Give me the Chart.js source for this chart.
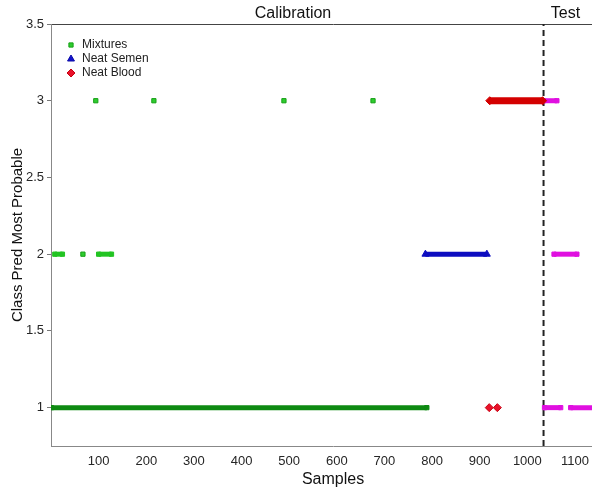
<!DOCTYPE html>
<html>
<head>
<meta charset="utf-8">
<script src="https://cdn.jsdelivr.net/npm/chart.js@4.4.1/dist/chart.umd.min.js"></script>
<style>
  html, body { margin: 0; padding: 0; background: #fff; overflow: hidden; }
  #wrap { width: 620px; height: 490px; }
</style>
</head>
<body>
<div id="wrap"><canvas id="chart"></canvas></div>
<script>
// Series names shown in the legend
const seriesNames = ['Mixtures', 'Neat Semen', 'Neat Blood'];

// Isolated samples: [sample, predicted class]
const mixtureSingles = [[94, 3], [216, 3], [489, 3], [676, 3], [67, 2]];
const bloodSingles = [[920, 1], [937, 1]];

// Dense runs of consecutive samples: [first sample, last sample, predicted class]
const mixtureRuns = [[1, 789, 1], [8, 24, 2], [100, 127, 2]];
const semenRuns = [[786, 915, 2]];
const bloodRuns = [[921, 1032, 3]];
const testRuns = [[1034, 1062, 3], [1056, 1104, 2], [1036, 1070, 1], [1091, 1195, 1]];

// Calibration / test split
const splitSample = 1034;
const sectionLabels = ['Calibration', 'Test'];
const sectionCenters = [508, 1080];

// Axis ticks
const xTicks = [100, 200, 300, 400, 500, 600, 700, 800, 900, 1000, 1100];
const yTicks = [1, 1.5, 2, 2.5, 3, 3.5];
const xRange = [0, 1184];
const yRange = [0.75, 3.5];

const styles = {
    mixtures: { fill: '#2ecc2e', border: '#16a016', run: '#22c422', longRun: '#0e8a12', shape: 'rect', r: 3 },
    semen: { fill: '#1212cc', border: '#0a0aa8', run: '#0d0dc0', shape: 'triangle', r: 4 },
    blood: { fill: '#e8122a', border: '#c80010', run: '#d40000', shape: 'rectRot', r: 4 },
    test: { fill: '#e418e4', border: '#c000c8', run: '#e010e0', shape: 'rect', r: 3 }
};

const datasets = [];

function addRuns(runs, st) {
    runs.forEach(function(run) {
        const long = run[1] - run[0] > 200;
        const colour = long && st.longRun ? st.longRun : st.run;
        datasets.push({
            type: 'line',
            data: [{ x: run[0], y: run[2] }, { x: run[1], y: run[2] }],
            borderColor: colour,
            borderWidth: st.shape === 'rectRot' ? 7 : 5,
            borderCapStyle: 'butt',
            pointStyle: st.shape,
            pointRadius: st.r,
            pointBackgroundColor: colour,
            pointBorderColor: colour,
            pointBorderWidth: 1,
            tension: 0
        });
    });
}

function addSingles(points, st) {
    datasets.push({
        type: 'scatter',
        data: points.map(function(p) { return { x: p[0], y: p[1] }; }),
        pointStyle: st.shape,
        pointRadius: st.r,
        backgroundColor: st.fill,
        borderColor: st.border,
        borderWidth: 1
    });
}

addRuns(mixtureRuns, styles.mixtures);
addSingles(mixtureSingles, styles.mixtures);
addRuns(semenRuns, styles.semen);
addRuns(bloodRuns, styles.blood);
addSingles(bloodSingles, styles.blood);
addRuns(testRuns, styles.test);

// Dashed split line
datasets.push({
    type: 'line',
    data: [{ x: splitSample, y: yRange[0] }, { x: splitSample, y: yRange[1] }],
    borderColor: '#222',
    borderWidth: 2,
    borderDash: [6, 4],
    pointRadius: 0
});

// Legend drawn inside the plot area, top left
const insideLegend = {
    id: 'insideLegend',
    afterDatasetsDraw: function(chart) {
        const ctx = chart.ctx;
        const area = chart.chartArea;
        const legendStyles = [styles.mixtures, styles.semen, styles.blood];
        ctx.save();
        ctx.font = '12px "Liberation Sans", Arial, sans-serif';
        ctx.textBaseline = 'middle';
        seriesNames.forEach(function(name, i) {
            const st = legendStyles[i];
            const y = area.top + 21 + i * 14;
            ctx.fillStyle = st.fill;
            ctx.strokeStyle = st.border;
            ctx.lineWidth = 1;
            Chart.helpers.drawPoint(ctx, { pointStyle: st.shape, radius: st.r, borderWidth: 1 }, area.left + 20, y);
            ctx.fillStyle = '#222';
            ctx.fillText(name, area.left + 31, y);
        });
        ctx.restore();
    }
};

const tickFont = { family: '"Liberation Sans", Arial, sans-serif', size: 13 };
const plainLabel = function(value) { return String(value); };

new Chart(document.getElementById('chart'), {
    type: 'scatter',
    data: { datasets: datasets },
    plugins: [insideLegend],
    options: {
        responsive: true,
        maintainAspectRatio: false,
        animation: false,
        layout: { padding: 0 },
        plugins: {
            legend: { display: false },
            tooltip: { enabled: false }
        },
        scales: {
            x: {
                type: 'linear',
                position: 'bottom',
                min: xRange[0],
                max: xRange[1],
                afterBuildTicks: function(scale) {
                    scale.ticks = xTicks.map(function(v) { return { value: v }; });
                },
                afterFit: function(scale) { scale.height = 44; },
                ticks: { font: tickFont, color: '#262626', padding: 8, maxRotation: 0, autoSkip: false, callback: plainLabel },
                grid: { drawOnChartArea: false, drawTicks: false },
                border: { color: '#888', width: 1 },
                title: {
                    display: true,
                    text: 'Samples',
                    font: { family: '"Liberation Sans", Arial, sans-serif', size: 16 },
                    color: '#111',
                    padding: { top: 0, bottom: 1 }
                }
            },
            xTop: {
                type: 'linear',
                position: 'top',
                min: xRange[0],
                max: xRange[1],
                afterBuildTicks: function(scale) {
                    scale.ticks = sectionCenters.map(function(v) { return { value: v }; });
                },
                afterFit: function(scale) { scale.height = 24; },
                ticks: {
                    font: { family: '"Liberation Sans", Arial, sans-serif', size: 16 },
                    color: '#111',
                    padding: -7,
                    maxRotation: 0,
                    autoSkip: false,
                    callback: function(value) { return sectionLabels[sectionCenters.indexOf(value)]; }
                },
                grid: { display: false },
                border: { color: '#444', width: 1 }
            },
            y: {
                type: 'linear',
                min: yRange[0],
                max: yRange[1],
                afterBuildTicks: function(scale) {
                    scale.ticks = yTicks.map(function(v) { return { value: v }; });
                },
                afterFit: function(scale) { scale.width = 51; },
                ticks: { font: tickFont, color: '#262626', padding: 3, callback: plainLabel },
                grid: { drawOnChartArea: false, drawTicks: true, tickLength: 4, color: '#777' },
                border: { color: '#888', width: 1 },
                title: {
                    display: true,
                    text: 'Class Pred Most Probable',
                    font: { family: '"Liberation Sans", Arial, sans-serif', size: 15 },
                    color: '#111',
                    padding: { top: 9, bottom: 0 }
                }
            }
        }
    }
});
</script>
</body>
</html>
